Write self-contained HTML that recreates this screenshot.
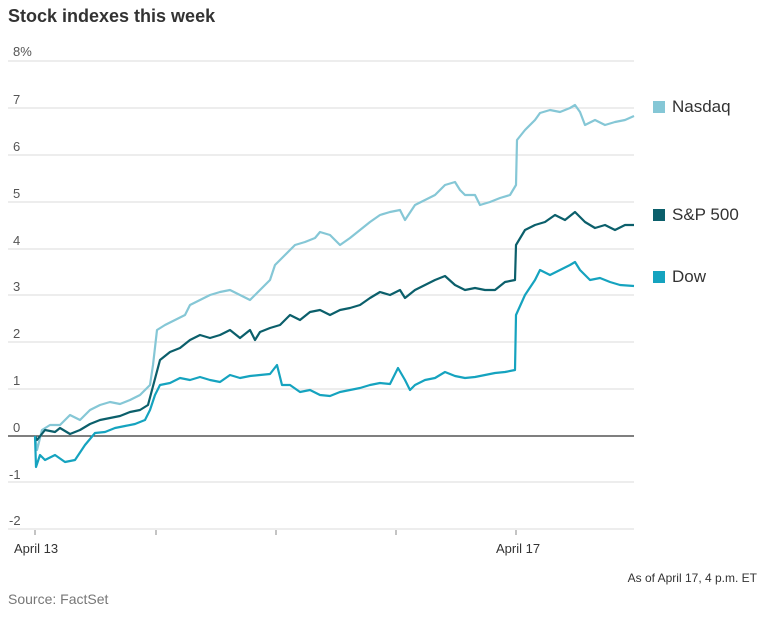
<!DOCTYPE html><html><head><style>
body{margin:0;background:#fff;width:769px;height:614px;overflow:hidden;font-family:"Liberation Sans",sans-serif;}
svg text{font-family:"Liberation Sans",sans-serif;}
</style></head><body>
<svg width="769" height="614" xmlns="http://www.w3.org/2000/svg">
<text x="8" y="22" font-size="18" font-weight="bold" fill="#333">Stock indexes this week</text>
<g stroke="#e2e2e2" stroke-width="1.3">
<line x1="8" x2="634" y1="61" y2="61"/><line x1="8" x2="634" y1="108" y2="108"/><line x1="8" x2="634" y1="155" y2="155"/><line x1="8" x2="634" y1="202" y2="202"/><line x1="8" x2="634" y1="249" y2="249"/><line x1="8" x2="634" y1="295" y2="295"/><line x1="8" x2="634" y1="342" y2="342"/><line x1="8" x2="634" y1="389" y2="389"/><line x1="8" x2="634" y1="482" y2="482"/><line x1="8" x2="634" y1="529" y2="529"/>
</g>
<line x1="8" x2="634" y1="436" y2="436" stroke="#333" stroke-width="1.3"/>
<g stroke="#888" stroke-width="1"><line x1="35" x2="35" y1="530" y2="535"/><line x1="156" x2="156" y1="530" y2="535"/><line x1="276" x2="276" y1="530" y2="535"/><line x1="396" x2="396" y1="530" y2="535"/><line x1="516" x2="516" y1="530" y2="535"/></g>
<g font-size="13" fill="#555">
<text x="13" y="56">8%</text><text x="13" y="104">7</text><text x="13" y="151">6</text><text x="13" y="198">5</text><text x="13" y="245">4</text><text x="13" y="291">3</text><text x="13" y="338">2</text><text x="13" y="385">1</text><text x="13" y="432">0</text><text x="9" y="479">-1</text><text x="9" y="525">-2</text>
<text x="14" y="553" fill="#333">April 13</text><text x="496" y="553" fill="#333">April 17</text>
<text x="757" y="582" text-anchor="end" fill="#333" font-size="12">As of April 17, 4 p.m. ET</text>
<text x="8" y="604" fill="#777" font-size="14">Source: FactSet</text>
</g>
<g fill="none" stroke-width="2.2" stroke-linejoin="round">
<polyline stroke="#85c7d6" points="35,436 37,450 42,430 50,425 60,425 70,415 80,420 90,410 100,405 110,402 120,404 130,400 140,395 150,385 153,365 157,330 165,325 175,320 185,315 190,305 200,300 210,295 220,292 230,290 240,295 250,300 260,290 270,280 275,265 285,255 295,245 305,242 315,238 320,232 330,235 340,245 350,238 360,230 370,222 380,215 390,212 400,210 405,220 415,205 425,200 435,195 445,185 455,182 460,190 465,195 475,195 480,205 490,202 500,198 510,195 516,185 517,140 525,130 535,120 540,113 550,110 560,112 570,108 575,105 580,112 585,125 595,120 605,125 615,122 625,120 634,116"/>
<polyline stroke="#0b5f6b" points="35,436 37,440 45,430 55,432 60,428 70,434 80,430 90,424 100,420 110,418 120,416 130,412 140,410 148,405 152,390 156,375 160,360 170,352 180,348 190,340 200,335 210,338 220,335 230,330 240,338 250,330 255,340 260,332 270,328 280,325 290,315 300,320 310,312 320,310 330,315 340,310 350,308 360,305 370,298 380,292 390,295 400,290 405,298 415,290 425,285 435,280 445,276 455,285 465,290 475,288 485,290 495,290 505,282 515,280 516,245 525,230 535,225 545,222 555,215 565,220 575,212 585,222 595,228 605,225 615,230 625,225 634,225"/>
<polyline stroke="#15a3bf" points="35,436 36,467 40,455 45,460 55,455 65,462 75,460 85,445 95,433 105,432 115,428 125,426 135,424 145,420 150,410 155,395 160,385 170,383 180,378 190,380 200,377 210,380 220,382 230,375 240,378 250,376 260,375 270,374 277,365 282,385 290,385 300,392 310,390 320,395 330,396 340,392 350,390 360,388 370,385 380,383 390,384 398,368 405,380 410,390 415,385 425,380 435,378 445,372 455,376 465,378 475,377 485,375 495,373 505,372 515,370 516,315 525,295 535,280 540,270 550,275 560,270 570,265 575,262 580,270 590,280 600,278 610,282 620,285 634,286"/>
</g>
<rect x="653" y="101" width="12" height="12" fill="#85c7d6"/><text x="672" y="112" font-size="17" fill="#333">Nasdaq</text>
<rect x="653" y="209" width="12" height="12" fill="#0b5f6b"/><text x="672" y="220" font-size="17" fill="#333">S&amp;P 500</text>
<rect x="653" y="271" width="12" height="12" fill="#15a3bf"/><text x="672" y="282" font-size="17" fill="#333">Dow</text>
</svg>
</body></html>
